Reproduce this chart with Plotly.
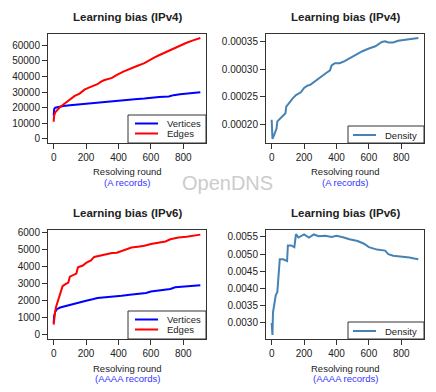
import plotly.graph_objects as go

# IPv4 (A records)
v4_vert_x = [0, 3, 10, 30, 60, 100, 150, 200, 260, 300, 350, 400, 430, 500, 560, 600, 650, 710, 740, 780, 820, 870, 905]
v4_vert_y = [15000, 19000, 20000, 20500, 21000, 21500, 22000, 22500, 23000, 23500, 24000, 24500, 25000, 25300,
             25800, 26300, 26800, 27200, 28000, 28500, 29000, 29500, 29800]
v4_edge_x = [0, 3, 10, 25, 40, 60, 80, 100, 130, 160, 190, 210, 250, 270, 290, 310, 360, 390, 430, 470, 510,
             560, 590, 620, 650, 680, 710, 740, 780, 820, 860, 905]
v4_edge_y = [11000, 15000, 17000, 19000, 20500, 22000, 23500, 25500, 27500, 29000, 31500, 32500, 34000, 35000,
             36500, 37500, 39000, 41000, 43000, 45000, 46500, 48500, 50500, 52000, 53500, 55000, 56000, 58000,
             60000, 61500, 63000, 64500]
v4_dens_x = [0, 5, 15, 30, 35, 50, 70, 85, 90, 110, 130, 150, 180, 200, 220, 240, 270, 300, 330, 360, 370, 390,
             420, 450, 480, 520, 560, 600, 640, 680, 700, 720, 750, 780, 820, 860, 905]
v4_dens_y = [0.000208, 0.000173, 0.00018, 0.000192, 0.000205, 0.00021, 0.000215, 0.00022, 0.000232, 0.00024,
             0.000247, 0.000253, 0.000258, 0.000266, 0.00027, 0.000272, 0.000279, 0.000286, 0.000292, 0.000298,
             0.000307, 0.000311, 0.000311, 0.000315, 0.00032, 0.000327, 0.000333, 0.000338, 0.000342, 0.00035,
             0.000351, 0.000349, 0.000349, 0.000352, 0.000354, 0.000355, 0.000357]

# IPv6 (AAAA records)
v6_vert_x = [0, 3, 10, 20, 40, 70, 100, 140, 170, 200, 240, 270, 320, 380, 420, 470, 520, 570, 600, 650, 700,
             720, 750, 800, 850, 905]
v6_vert_y = [700, 1100, 1350, 1500, 1600, 1680, 1760, 1850, 1950, 2000, 2080, 2150, 2200, 2230, 2280, 2350,
             2400, 2450, 2530, 2600, 2650, 2680, 2780, 2820, 2850, 2900]
v6_edge_x = [0, 3, 8, 15, 25, 35, 45, 55, 70, 90, 100, 120, 140, 150, 180, 200, 230, 250, 280, 320, 360, 390,
             420, 450, 480, 520, 560, 600, 650, 690, 720, 770, 820, 860, 905]
v6_edge_y = [600, 1000, 1300, 1650, 1950, 2150, 2500, 2850, 2950, 3050, 3400, 3500, 3580, 3950, 4050, 4200,
             4350, 4550, 4620, 4700, 4780, 4800, 4900, 5000, 5100, 5150, 5200, 5300, 5380, 5450, 5580, 5680,
             5720, 5780, 5850]
v6_dens_x = [0, 5, 8, 15, 25, 35, 42, 50, 70, 95, 100, 120, 140, 150, 165, 180, 200, 230, 260, 290, 330, 370,
             400, 440, 480, 530, 570, 600, 650, 700, 720, 750, 800, 850, 880, 905]
v6_dens_y = [0.0030, 0.00265, 0.0033, 0.0035, 0.0038, 0.0039, 0.0044, 0.00485, 0.00485, 0.0048, 0.00525,
             0.00525, 0.0052, 0.00558, 0.00548, 0.00552, 0.00557, 0.00548, 0.00557, 0.00552, 0.00553, 0.0055,
             0.00553, 0.00549, 0.00543, 0.00538, 0.0053, 0.0052, 0.00513, 0.0051, 0.005, 0.00495, 0.00493,
             0.0049, 0.00487, 0.00485]

x_ticks = [0, 200, 400, 600, 800]

# the page body keeps its default 8px margin, so the figure is offset by that much
PAD = 8
W, H = 436 - PAD, 392 - PAD
FONT = "Liberation Sans"
INK = "#222222"
BLUE_NOTE = "#3333ff"
C_VERT, C_EDGE, C_DENS = "#0000ff", "#ff0000", "#4682b4"

fig = go.Figure()

# (x, y, name, colour, panel index)
series = [
    (v4_vert_x, v4_vert_y, "Vertices", C_VERT, 0),
    (v4_edge_x, v4_edge_y, "Edges", C_EDGE, 0),
    (v4_dens_x, v4_dens_y, "Density", C_DENS, 1),
    (v6_vert_x, v6_vert_y, "Vertices", C_VERT, 2),
    (v6_edge_x, v6_edge_y, "Edges", C_EDGE, 2),
    (v6_dens_x, v6_dens_y, "Density", C_DENS, 3),
]
for xs, ys, name, col, p in series:
    n = "" if p == 0 else str(p + 1)
    fig.add_trace(go.Scatter(x=xs, y=ys, mode="lines", name=name, showlegend=False,
                             line=dict(color=col, width=2), xaxis="x" + n, yaxis="y" + n))

# box positions in screen pixels: (left, right, top, bottom)
boxes = [(48, 206, 34, 143), (266, 424, 34, 143), (48, 206, 230, 339), (266, 424, 230, 339)]
y_ranges = [[-2600, 67100], [0.0001656, 0.0003644], [-235, 6120], [0.00253, 0.0057]]
y_ticks = [[0, 10000, 20000, 30000, 40000, 50000, 60000],
           [0.0002, 0.00025, 0.0003, 0.00035],
           [0, 1000, 2000, 3000, 4000, 5000, 6000],
           [0.003, 0.0035, 0.004, 0.0045, 0.005, 0.0055]]
y_fmt = ["d", ".5f", "d", ".4f"]
notes = ["(A records)", "(A records)", "(AAAA records)", "(AAAA records)"]
titles = ["Learning bias (IPv4)", "Learning bias (IPv4)", "Learning bias (IPv6)", "Learning bias (IPv6)"]


def fx(xp):
    return (xp - PAD) / W


def fy(yp):
    return 1 - (yp - PAD) / H


axis_common = dict(showline=True, linecolor="#333333", linewidth=1, mirror=True, ticks="outside",
                   ticklen=5, tickcolor="#333333", showgrid=False, zeroline=False, automargin=False,
                   tickfont=dict(family=FONT, size=10, color=INK))

layout = {}
for i, (l, r, t, b) in enumerate(boxes):
    n = "" if i == 0 else str(i + 1)
    layout["xaxis" + n] = dict(domain=[fx(l), fx(r)], anchor="y" + n, range=[-35, 940],
                               tickvals=x_ticks, **axis_common)
    layout["yaxis" + n] = dict(domain=[fy(b), fy(t)], anchor="x" + n, range=y_ranges[i],
                               tickvals=y_ticks[i], tickformat=y_fmt[i], **axis_common)


def px(xp, yp, **kw):
    d = dict(x=fx(xp), y=fy(yp), xref="paper", yref="paper", showarrow=False)
    d.update(kw)
    return d


annotations = []
shapes = []
for i, (l, r, t, b) in enumerate(boxes):
    cx = (l + r) / 2
    annotations.append(px(cx, t - 17, text="<b>%s</b>" % titles[i], xanchor="center", yanchor="middle",
                          font=dict(family=FONT, size=11.5, color=INK)))
    annotations.append(px(cx, b + 29, text="Resolving round", xanchor="center", yanchor="middle",
                          font=dict(family=FONT, size=9.5, color=INK)))
    annotations.append(px(cx, b + 39, text=notes[i], xanchor="center", yanchor="middle",
                          font=dict(family=FONT, size=9.5, color=BLUE_NOTE)))

# legends (boxes with line samples, bottom-right inside each panel)
legend_items = [
    [("Vertices", C_VERT), ("Edges", C_EDGE)],
    [("Density", C_DENS)],
    [("Vertices", C_VERT), ("Edges", C_EDGE)],
    [("Density", C_DENS)],
]
for i, (l, r, t, b) in enumerate(boxes):
    items = legend_items[i]
    bw = 78 if len(items) == 2 else 76
    top = b - (28 if len(items) == 2 else 17)
    shapes.append(dict(type="rect", xref="paper", yref="paper", x0=fx(r - bw), x1=fx(r),
                       y0=fy(b), y1=fy(top), fillcolor="white",
                       line=dict(color="#333333", width=1), layer="above"))
    for k, (name, col) in enumerate(items):
        yy = top + 8.5 + 10 * k if len(items) == 2 else top + 9
        shapes.append(dict(type="line", xref="paper", yref="paper", x0=fx(r - 71), x1=fx(r - 48),
                           y0=fy(yy), y1=fy(yy), line=dict(color=col, width=2), layer="above"))
        annotations.append(px(r - 41, yy, text=name, xanchor="left", yanchor="middle",
                              font=dict(family=FONT, size=9.5, color=INK)))

annotations.append(px(227, 183, text="OpenDNS", xanchor="center", yanchor="middle",
                      font=dict(family=FONT, size=20, color="#cccccc")))

fig.update_layout(
    width=W, height=H,
    margin=dict(l=0, r=0, t=0, b=0),
    paper_bgcolor="white", plot_bgcolor="white",
    showlegend=False,
    annotations=annotations,
    shapes=shapes,
    **layout,
)

fig.write_html("out.html")
